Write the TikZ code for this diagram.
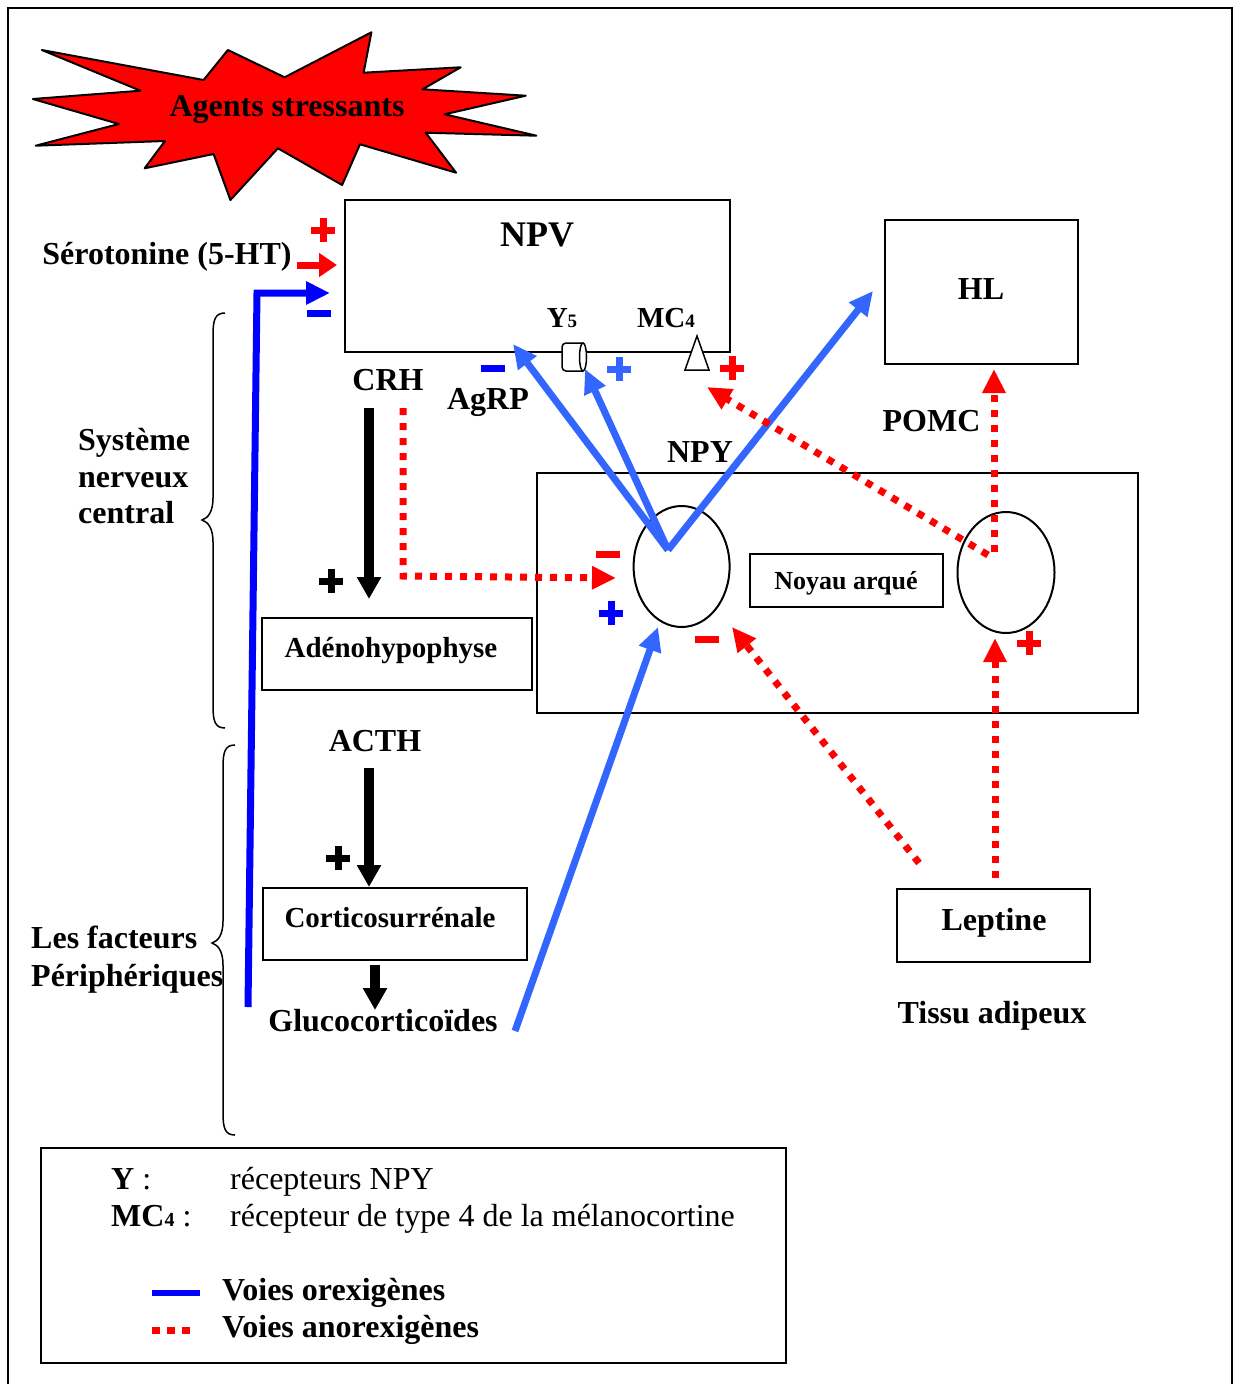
\documentclass[tikz,border=0pt]{standalone}
\usepackage{fontspec}
\setmainfont{Liberation Serif}
\usetikzlibrary{arrows.meta,shapes.geometric}
\definecolor{redA}{RGB}{255,0,0}
\definecolor{blueA}{RGB}{0,0,255}
\definecolor{blueB}{RGB}{51,102,255}

\tikzset{
  lbl/.style={font=\fontsize{32}{38}\selectfont\bfseries, inner sep=0pt, anchor=base},
  lblsmall/.style={font=\fontsize{29}{35}\selectfont\bfseries, inner sep=0pt, anchor=base},
  legtxt/.style={font=\fontsize{32}{38}\selectfont, inner sep=0pt, anchor=base west},
  box/.style={draw, line width=2pt, inner sep=0pt},
  oval/.style={draw, ellipse, line width=2pt, inner sep=0pt},
  headK/.style={-{Triangle[length=22pt,width=23pt]}},
  headS/.style={-{Triangle[length=18pt,width=23pt]}},
  headB/.style={-{Triangle[length=24pt,width=22pt]}},
  blackflow/.style={line width=10pt, headK},
  orexi/.style={blueB, line width=7pt, headB},
  anorexi/.style={redA, line width=7pt, dash pattern=on 7pt off 8pt, headB},
  pplus/.pic={\draw[line width=7pt] (-12,0) -- (12,0) (0,-12) -- (0,12);},
  pminus/.pic={\draw[line width=7pt] (-12,0) -- (12,0);},
}

\begin{document}
\begin{tikzpicture}[x=1pt,y=-1pt, line join=miter]
\useasboundingbox (0,0) rectangle (1233,1384);

% outer frame
\draw[line width=2pt] (8,1384) -- (8,8) -- (1232,8) -- (1232,1384);

% stress burst
\draw[fill=redA, line width=2pt, line join=round]
  (41.8,50) -- (203.6,80) -- (227.9,50) -- (284.6,77.3) -- (371.4,32.3)
  -- (363.6,72.7) -- (460.7,67.3) -- (422.5,89.3) -- (525.7,95.7)
  -- (444.6,114.3) -- (536.4,135.7) -- (425.7,132.7) -- (456.1,172.7)
  -- (360,144.3) -- (342.1,185) -- (277.9,148.3) -- (230.4,200)
  -- (213.6,154) -- (144.6,168.3) -- (165,141) -- (35.7,145.7)
  -- (118.9,124) -- (32.9,99) -- (140.4,90.7) -- cycle;
\node[lbl] (stress) at (287,116) {Agents stressants};

% boxes
\node[box, minimum width=385, minimum height=152] (npv) at (537.5,276) {};
\node[box, minimum width=193, minimum height=144] (hl) at (981.5,292) {};
\node[box, minimum width=601, minimum height=240] (arc) at (837.5,593) {};
\node[box, minimum width=193, minimum height=53] (noyau) at (846.5,580.5) {};
\node[box, minimum width=270, minimum height=72] (adeno) at (397,654) {};
\node[box, minimum width=264, minimum height=72] (cortico) at (395,924) {};
\node[box, minimum width=193, minimum height=73] (lep) at (993.5,925.5) {};
\node[box, minimum width=745, minimum height=215] (legend) at (413.5,1255.5) {};

% neuron populations of the arcuate nucleus
\node[oval, minimum width=96, minimum height=121] (npyn) at (681.6,566.5) {};
\node[oval, minimum width=97, minimum height=121] (pomcn) at (1006,572.5) {};

% labels
\node[lbl, font=\fontsize{36}{42}\selectfont\bfseries] (npvt) at (537,246) {NPV};
\node[lbl] (hlt) at (981,299) {HL};
\node[lbl] (sero) at (167,264) {Sérotonine (5-HT)};
\node[lbl] (crh) at (388,390) {CRH};
\node[lbl] (agrp) at (488,409) {AgRP};
\node[lbl] (pomc) at (931.5,431) {POMC};
\node[lbl] (npyt) at (700,462) {NPY};
\node[lbl, font=\fontsize{26}{30}\selectfont\bfseries] (noyaut) at (846,589) {Noyau arqué};
\node[lblsmall] (adenot) at (391,657) {Adénohypophyse};
\node[lblsmall] (corticot) at (390,927) {Corticosurrénale};
\node[lbl] (acth) at (375,751) {ACTH};
\node[lbl] (gluco) at (383,1031) {Glucocorticoïdes};
\node[lbl] (lept) at (994,930) {Leptine};
\node[lbl] (tissu) at (992,1023) {Tissu adipeux};
\node[lblsmall] (y5t) at (562,327) {Y{\fontsize{19}{19}\selectfont 5}};
\node[lblsmall] (mc4t) at (666,327) {MC{\fontsize{19}{19}\selectfont 4}};

% side labels and braces
\node[lbl, anchor=base west] (snc1) at (78,450) {Système};
\node[lbl, anchor=base west] (snc2) at (78,487) {nerveux};
\node[lbl, anchor=base west] (snc3) at (78,523) {central};
\node[lbl, anchor=base west] (per1) at (31,948) {Les facteurs};
\node[lbl, anchor=base west] (per2) at (31,986) {Périphériques};
\draw[line width=1.5pt] (225,313) .. controls (215,313) and (213,320) .. (213,335)
  -- (213,498) .. controls (213,512) and (208,518) .. (202,520)
  .. controls (208,522) and (213,528) .. (213,542)
  -- (213,706) .. controls (213,721) and (215,728) .. (225,728);
\draw[line width=1.5pt] (235,745) .. controls (225,745) and (223,752) .. (223,767)
  -- (223,921) .. controls (223,935) and (218,941) .. (212,943)
  .. controls (218,945) and (223,951) .. (223,965)
  -- (223,1113) .. controls (223,1128) and (225,1135) .. (235,1135);

% receptors on the NPV
\draw[line width=1.5pt, fill=white, rounded corners=4pt] (583,343) -- (562,343) -- (562,371) -- (583,371);
\draw[line width=1.5pt, fill=white] (583,357) ellipse (3.5 and 14);
\coordinate (y5r) at (585,369);
\draw[line width=1.5pt, fill=white] (697,336) -- (685,370) -- (709,370) -- cycle;
\coordinate (mc4r) at (707,387);

% connection points
\coordinate (hub) at (668,550);
\coordinate (npvin) at (513,344);
\coordinate (hlin) at (873,291);
\coordinate (glucoout) at (515,1031);
\coordinate (npyin) at (658,627);
\coordinate (crhout) at (403,408);
\coordinate (crhcorner) at (403,576);
\coordinate (npyleft) at (616,578);
\coordinate (pomchub) at (988,555);
\coordinate (pomctop) at (994,552);
\coordinate (hlbottom) at (994,369);
\coordinate (lepdiag) at (919,863);
\coordinate (npylow) at (732,627);
\coordinate (leptop) at (995,878);
\coordinate (pomcbottom) at (995,638);
\coordinate (serfrom) at (297,265);
\coordinate (serto) at (337,265);
\coordinate (blufoot) at (248,1007);
\coordinate (blucorner) at (257,293);
\coordinate (bluto) at (330,293);
\coordinate (crhsrc) at (369,408);
\coordinate (adenoin) at (369,599);
\coordinate (acthsrc) at (369,768);
\coordinate (corticoin) at (369,887);
\coordinate (corticoout) at (375,965);
\coordinate (glucoin) at (375,1010);

% black hormonal cascade
\draw[blackflow] (crhsrc) -- (adenoin);
\draw[blackflow] (acthsrc) -- (corticoin);
\draw[blackflow] (corticoout) -- (glucoin);

% orexigenic pathways
\draw[orexi] (hub) -- (npvin);
\draw[orexi] (hub) -- (y5r);
\draw[orexi] (hub) -- (hlin);
\draw[orexi] (glucoout) -- (npyin);
\draw[blueA, line width=7pt, headB] (blufoot) -- (blucorner) -- (bluto);

% anorexigenic pathways
\draw[anorexi] (crhout) -- (crhcorner) -- (npyleft);
\draw[anorexi] (pomchub) -- (mc4r);
\draw[anorexi] (pomctop) -- (hlbottom);
\draw[anorexi] (lepdiag) -- (npylow);
\draw[anorexi] (leptop) -- (pomcbottom);
\draw[redA, line width=7pt, headS] (serfrom) -- (serto);

% signs
\pic[redA] at (323,230) {pplus};
\pic[blueA] at (319,313) {pminus};
\pic[blueA] at (493,368) {pminus};
\pic[blueB] at (619,369) {pplus};
\pic[redA] at (732,368) {pplus};
\pic[redA] at (608,554) {pminus};
\pic[blueA] at (611,613) {pplus};
\pic[redA] at (707,639) {pminus};
\pic[redA] at (1029,643) {pplus};
\pic[black] at (331,581) {pplus};
\pic[black] at (338,858) {pplus};

% legend
\node[legtxt] (lgy) at (111,1189) {\textbf{Y} :};
\node[legtxt] (lgyd) at (230,1189) {récepteurs NPY};
\node[legtxt] (lgm) at (111,1226) {\textbf{MC{\fontsize{20}{20}\selectfont 4}} :};
\node[legtxt] (lgmd) at (230,1226) {récepteur de type 4 de la mélanocortine};
\draw[blueA, line width=6pt] (152,1293) -- (200,1293);
\node[lbl, anchor=base west] (lgo) at (222,1300) {Voies orexigènes};
\draw[redA, line width=7pt, dash pattern=on 8pt off 7pt] (152,1330) -- (190,1330);
\node[lbl, anchor=base west] (lga) at (222,1337) {Voies anorexigènes};
\end{tikzpicture}
\end{document}
